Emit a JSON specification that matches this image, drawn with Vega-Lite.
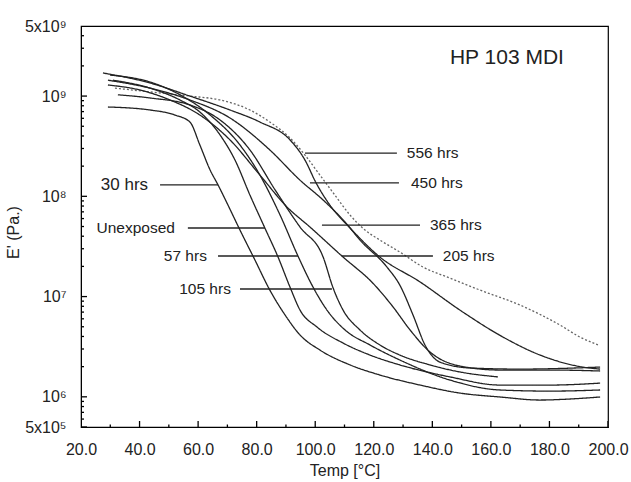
{
  "$schema": "https://vega.github.io/schema/vega-lite/v6.json",
  "autosize": "none",
  "width": 527,
  "height": 401,
  "padding": {"left": 81, "top": 26, "right": 23, "bottom": 55},
  "background": "white",
  "config": {
    "font": "Liberation Sans",
    "view": {"stroke": "black", "strokeWidth": 1.2},
    "axis": {"domainColor": "black", "labelColor": "#222222", "titleColor": "#222222", "labelFontSize": 16, "titleFontSize": 16, "titleFontWeight": "normal", "grid": false, "labelFont": "Liberation Sans", "titleFont": "Liberation Sans", "ticks": false}
  },
  "datasets": {
    "curves": [
      {"s":"556 hrs","t":31.6,"e":1.20e9},{"s":"556 hrs","t":43.6,"e":1.10e9},{"s":"556 hrs","t":57.2,"e":1.00e9},{"s":"556 hrs","t":67.5,"e":9.14e8},{"s":"556 hrs","t":77.7,"e":7.26e8},{"s":"556 hrs","t":84.5,"e":5.51e8},{"s":"556 hrs","t":91.4,"e":3.82e8},{"s":"556 hrs","t":96.5,"e":2.58e8},{"s":"556 hrs","t":101.6,"e":1.63e8},{"s":"556 hrs","t":106.7,"e":1.03e8},{"s":"556 hrs","t":111.9,"e":6.50e7},{"s":"556 hrs","t":117.0,"e":4.61e7},{"s":"556 hrs","t":122.1,"e":3.66e7},{"s":"556 hrs","t":128.9,"e":2.78e7},{"s":"556 hrs","t":136.8,"e":1.97e7},{"s":"556 hrs","t":146.0,"e":1.53e7},{"s":"556 hrs","t":156.3,"e":1.16e7},{"s":"556 hrs","t":169.9,"e":8.24e6},{"s":"556 hrs","t":183.6,"e":5.20e6},{"s":"556 hrs","t":190.4,"e":3.95e6},{"s":"556 hrs","t":196.6,"e":3.29e6},
      {"s":"450 hrs","t":27.5,"e":1.70e9},{"s":"450 hrs","t":43.6,"e":1.35e9},{"s":"450 hrs","t":57.2,"e":1.00e9},{"s":"450 hrs","t":70.9,"e":7.26e8},{"s":"450 hrs","t":81.1,"e":5.51e8},{"s":"450 hrs","t":91.4,"e":3.65e8},{"s":"450 hrs","t":96.5,"e":2.30e8},{"s":"450 hrs","t":100.3,"e":1.36e8},{"s":"450 hrs","t":105.0,"e":8.18e7},{"s":"450 hrs","t":111.9,"e":4.83e7},{"s":"450 hrs","t":122.1,"e":2.48e7},{"s":"450 hrs","t":135.8,"e":1.40e7},{"s":"450 hrs","t":149.4,"e":7.34e6},{"s":"450 hrs","t":164.1,"e":3.95e6},{"s":"450 hrs","t":176.8,"e":2.61e6},{"s":"450 hrs","t":191.4,"e":1.98e6},{"s":"450 hrs","t":197.3,"e":1.89e6},
      {"s":"365 hrs","t":29.2,"e":1.44e9},{"s":"365 hrs","t":43.6,"e":1.20e9},{"s":"365 hrs","t":57.2,"e":9.14e8},{"s":"365 hrs","t":70.9,"e":6.04e8},{"s":"365 hrs","t":84.5,"e":2.90e8},{"s":"365 hrs","t":94.8,"e":1.45e8},{"s":"365 hrs","t":102.7,"e":9.18e7},{"s":"365 hrs","t":110.2,"e":5.54e7},{"s":"365 hrs","t":115.3,"e":3.66e7},{"s":"365 hrs","t":124.5,"e":1.97e7},{"s":"365 hrs","t":128.9,"e":1.30e7},{"s":"365 hrs","t":133.4,"e":6.55e6},{"s":"365 hrs","t":137.5,"e":3.29e6},{"s":"365 hrs","t":142.6,"e":2.22e6},{"s":"365 hrs","t":152.9,"e":1.94e6},{"s":"365 hrs","t":169.9,"e":1.89e6},{"s":"365 hrs","t":197.3,"e":1.98e6},
      {"s":"205 hrs","t":29.2,"e":1.29e9},{"s":"205 hrs","t":40.1,"e":1.15e9},{"s":"205 hrs","t":50.4,"e":9.14e8},{"s":"205 hrs","t":60.6,"e":6.47e8},{"s":"205 hrs","t":70.9,"e":3.65e8},{"s":"205 hrs","t":81.1,"e":1.63e8},{"s":"205 hrs","t":90.4,"e":7.81e7},{"s":"205 hrs","t":98.2,"e":4.94e7},{"s":"205 hrs","t":109.5,"e":2.48e7},{"s":"205 hrs","t":119.7,"e":1.36e7},{"s":"205 hrs","t":126.6,"e":7.87e6},{"s":"205 hrs","t":132.4,"e":4.64e6},{"s":"205 hrs","t":139.2,"e":2.80e6},{"s":"205 hrs","t":149.4,"e":2.03e6},{"s":"205 hrs","t":163.1,"e":1.85e6},{"s":"205 hrs","t":180.2,"e":1.85e6},{"s":"205 hrs","t":197.3,"e":1.81e6},
      {"s":"105 hrs","t":32.6,"e":1.03e9},{"s":"105 hrs","t":43.6,"e":9.57e8},{"s":"105 hrs","t":57.2,"e":8.15e8},{"s":"105 hrs","t":67.5,"e":5.77e8},{"s":"105 hrs","t":77.7,"e":2.90e8},{"s":"105 hrs","t":86.3,"e":1.16e8},{"s":"105 hrs","t":94.8,"e":4.94e7},{"s":"105 hrs","t":102.7,"e":2.48e7},{"s":"105 hrs","t":106.1,"e":1.22e7},{"s":"105 hrs","t":109.5,"e":7.34e6},{"s":"105 hrs","t":115.3,"e":4.64e6},{"s":"105 hrs","t":122.1,"e":3.29e6},{"s":"105 hrs","t":128.9,"e":2.61e6},{"s":"105 hrs","t":139.2,"e":2.08e6},{"s":"105 hrs","t":149.4,"e":1.77e6},{"s":"105 hrs","t":162.4,"e":1.58e6},
      {"s":"57 hrs","t":29.9,"e":1.62e9},{"s":"57 hrs","t":43.6,"e":1.38e9},{"s":"57 hrs","t":53.8,"e":1.03e9},{"s":"57 hrs","t":64.1,"e":6.47e8},{"s":"57 hrs","t":74.3,"e":3.25e8},{"s":"57 hrs","t":81.1,"e":1.63e8},{"s":"57 hrs","t":88.0,"e":6.50e7},{"s":"57 hrs","t":94.1,"e":2.54e7},{"s":"57 hrs","t":98.9,"e":1.30e7},{"s":"57 hrs","t":104.0,"e":7.34e6},{"s":"57 hrs","t":110.2,"e":4.64e6},{"s":"57 hrs","t":118.7,"e":3.29e6},{"s":"57 hrs","t":128.9,"e":2.33e6},{"s":"57 hrs","t":146.0,"e":1.47e6},{"s":"57 hrs","t":163.1,"e":1.17e6},{"s":"57 hrs","t":180.2,"e":1.14e6},{"s":"57 hrs","t":197.3,"e":1.17e6},
      {"s":"Unexposed","t":30.9,"e":1.44e9},{"s":"Unexposed","t":43.6,"e":1.20e9},{"s":"Unexposed","t":53.8,"e":9.14e8},{"s":"Unexposed","t":60.6,"e":6.93e8},{"s":"Unexposed","t":67.5,"e":4.09e8},{"s":"Unexposed","t":72.6,"e":2.30e8},{"s":"Unexposed","t":77.7,"e":1.03e8},{"s":"Unexposed","t":82.8,"e":4.83e7},{"s":"Unexposed","t":87.3,"e":2.48e7},{"s":"Unexposed","t":91.4,"e":1.24e7},{"s":"Unexposed","t":94.8,"e":7.34e6},{"s":"Unexposed","t":100.6,"e":4.97e6},{"s":"Unexposed","t":109.5,"e":3.44e6},{"s":"Unexposed","t":118.7,"e":2.61e6},{"s":"Unexposed","t":128.9,"e":2.08e6},{"s":"Unexposed","t":146.0,"e":1.58e6},{"s":"Unexposed","t":163.1,"e":1.31e6},{"s":"Unexposed","t":180.2,"e":1.31e6},{"s":"Unexposed","t":197.3,"e":1.37e6},
      {"s":"30 hrs","t":29.2,"e":7.78e8},{"s":"30 hrs","t":43.6,"e":7.26e8},{"s":"30 hrs","t":52.1,"e":6.47e8},{"s":"30 hrs","t":57.2,"e":5.51e8},{"s":"30 hrs","t":60.6,"e":3.25e8},{"s":"30 hrs","t":64.1,"e":1.83e8},{"s":"30 hrs","t":66.8,"e":1.30e8},{"s":"30 hrs","t":70.2,"e":8.18e7},{"s":"30 hrs","t":74.3,"e":4.61e7},{"s":"30 hrs","t":79.4,"e":2.32e7},{"s":"30 hrs","t":84.5,"e":1.16e7},{"s":"30 hrs","t":89.7,"e":6.55e6},{"s":"30 hrs","t":94.8,"e":4.14e6},{"s":"30 hrs","t":101.6,"e":2.93e6},{"s":"30 hrs","t":111.9,"e":2.08e6},{"s":"30 hrs","t":122.1,"e":1.65e6},{"s":"30 hrs","t":135.8,"e":1.31e6},{"s":"30 hrs","t":149.4,"e":1.09e6},{"s":"30 hrs","t":163.1,"e":9.96e5},{"s":"30 hrs","t":176.8,"e":9.29e5},{"s":"30 hrs","t":187.0,"e":9.51e5},{"s":"30 hrs","t":197.3,"e":9.96e5}
    ],
    "ann": [
      {"label":"30 hrs","side":"L","size":17,"lx":42.9,"x1":47.0,"x2":66.8,"y":1.30e8},
      {"label":"Unexposed","side":"L","size":15.5,"lx":52.1,"x1":56.5,"x2":82.8,"y":4.83e7},
      {"label":"57 hrs","side":"L","size":15.5,"lx":63.0,"x1":66.8,"x2":94.1,"y":2.54e7},
      {"label":"105 hrs","side":"L","size":15.5,"lx":71.2,"x1":74.3,"x2":105.7,"y":1.19e7},
      {"label":"556 hrs","side":"R","size":15.5,"lx":131.3,"x1":96.5,"x2":127.9,"y":2.70e8},
      {"label":"450 hrs","side":"R","size":15.5,"lx":132.7,"x1":98.2,"x2":128.6,"y":1.36e8},
      {"label":"365 hrs","side":"R","size":15.5,"lx":139.2,"x1":102.3,"x2":135.8,"y":5.17e7},
      {"label":"205 hrs","side":"R","size":15.5,"lx":143.6,"x1":109.1,"x2":140.2,"y":2.54e7}
    ],
    "title": [{"label":"HP 103 MDI","t":146.0,"e":2.4e9}],
    "xticks": [
      {"v":20,"len":12},{"v":30,"len":5},{"v":40,"len":12},{"v":50,"len":5},{"v":60,"len":12},{"v":70,"len":5},{"v":80,"len":12},{"v":90,"len":5},{"v":100,"len":12},{"v":110,"len":5},{"v":120,"len":12},{"v":130,"len":5},{"v":140,"len":12},{"v":150,"len":5},{"v":160,"len":12},{"v":170,"len":5},{"v":180,"len":12},{"v":190,"len":5},{"v":200,"len":12}
    ],
    "yticks": [
      {"v":5e5,"len":12},{"v":6e5,"len":6},{"v":7e5,"len":6},{"v":8e5,"len":6},{"v":9e5,"len":6},
      {"v":1e6,"len":12},{"v":2e6,"len":6},{"v":3e6,"len":6},{"v":4e6,"len":6},{"v":5e6,"len":6},{"v":6e6,"len":6},{"v":7e6,"len":6},{"v":8e6,"len":6},{"v":9e6,"len":6},
      {"v":1e7,"len":12},{"v":2e7,"len":6},{"v":3e7,"len":6},{"v":4e7,"len":6},{"v":5e7,"len":6},{"v":6e7,"len":6},{"v":7e7,"len":6},{"v":8e7,"len":6},{"v":9e7,"len":6},
      {"v":1e8,"len":12},{"v":2e8,"len":6},{"v":3e8,"len":6},{"v":4e8,"len":6},{"v":5e8,"len":6},{"v":6e8,"len":6},{"v":7e8,"len":6},{"v":8e8,"len":6},{"v":9e8,"len":6},
      {"v":1e9,"len":12},{"v":2e9,"len":6},{"v":3e9,"len":6},{"v":4e9,"len":6},{"v":5e9,"len":12}
    ]
  },
  "layer": [
    {
      "data": {"name": "curves"},
      "mark": {"type": "line", "strokeWidth": 1.3, "interpolate": "monotone", "clip": true},
      "encoding": {
        "x": {"field": "t", "type": "quantitative", "scale": {"domain": [20, 200], "nice": false, "zero": false},
          "axis": {"title": "Temp [°C]", "titlePadding": 5, "values": [20,40,60,80,100,120,140,160,180,200],
            "format": ".1f", "labelPadding": 14, "labelFlush": false, "labelOverlap": false}},
        "y": {"field": "e", "type": "quantitative", "scale": {"type": "log", "domain": [5e5, 5e9], "nice": false},
          "axis": {"title": "E' (Pa.)", "titleX": -60, "titleY": 206,
            "values": [5e5,1e6,1e7,1e8,1e9,5e9],
            "labelExpr": "datum.value == 5e5 ? '5x10⁵' : datum.value == 1e6 ? '10⁶' : datum.value == 1e7 ? '10⁷' : datum.value == 1e8 ? '10⁸' : datum.value == 1e9 ? '10⁹' : '5x10⁹'",
            "labelPadding": 15, "labelFlush": false, "labelOverlap": false}},
        "detail": {"field": "s"},
        "color": {"field": "s", "type": "nominal", "legend": null,
          "scale": {"domain": ["556 hrs","450 hrs","365 hrs","205 hrs","105 hrs","57 hrs","Unexposed","30 hrs"], "range": ["#666666","#222222","#222222","#222222","#222222","#222222","#222222","#222222"]}},
        "strokeDash": {"field": "s", "type": "nominal", "legend": null,
          "scale": {"domain": ["556 hrs","450 hrs","365 hrs","205 hrs","105 hrs","57 hrs","Unexposed","30 hrs"], "range": [[2,2],[1,0],[1,0],[1,0],[1,0],[1,0],[1,0],[1,0]]}}
      }
    },
    {
      "data": {"name": "xticks"},
      "mark": {"type": "tick", "orient": "vertical", "color": "black", "thickness": 1.3, "opacity": 1, "clip": true},
      "encoding": {
        "x": {"field": "v", "type": "quantitative"},
        "y": {"datum": 5e5},
        "size": {"field": "len", "type": "quantitative", "scale": null}
      }
    },
    {
      "data": {"name": "yticks"},
      "mark": {"type": "tick", "orient": "horizontal", "color": "black", "thickness": 1.3, "opacity": 1, "clip": true},
      "encoding": {
        "x": {"datum": 20},
        "y": {"field": "v", "type": "quantitative"},
        "size": {"field": "len", "type": "quantitative", "scale": null}
      }
    },
    {
      "data": {"name": "ann"},
      "mark": {"type": "rule", "color": "#222222", "strokeWidth": 1.3},
      "encoding": {
        "x": {"field": "x1", "type": "quantitative"},
        "x2": {"field": "x2"},
        "y": {"field": "y", "type": "quantitative"}
      }
    },
    {
      "data": {"name": "ann"},
      "transform": [{"filter": "datum.side == 'L'"}],
      "mark": {"type": "text", "align": "right", "baseline": "middle", "color": "#222222", "font": "Liberation Sans"},
      "encoding": {
        "x": {"field": "lx", "type": "quantitative"},
        "y": {"field": "y", "type": "quantitative"},
        "text": {"field": "label"},
        "size": {"field": "size", "type": "quantitative", "scale": null}
      }
    },
    {
      "data": {"name": "ann"},
      "transform": [{"filter": "datum.side == 'R'"}],
      "mark": {"type": "text", "align": "left", "baseline": "middle", "color": "#222222", "font": "Liberation Sans", "fontSize": 15.5},
      "encoding": {
        "x": {"field": "lx", "type": "quantitative"},
        "y": {"field": "y", "type": "quantitative"},
        "text": {"field": "label"}
      }
    },
    {
      "data": {"name": "title"},
      "mark": {"type": "text", "align": "left", "baseline": "middle", "color": "#222222", "font": "Liberation Sans", "fontSize": 21},
      "encoding": {
        "x": {"field": "t", "type": "quantitative"},
        "y": {"field": "e", "type": "quantitative"},
        "text": {"field": "label"}
      }
    }
  ]
}
